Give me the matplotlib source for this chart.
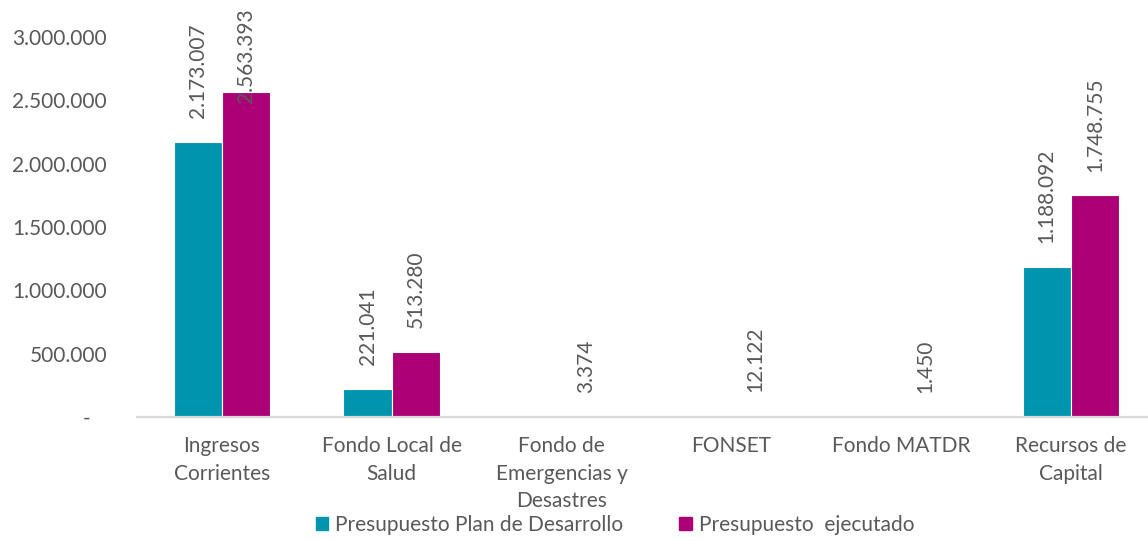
import numpy as np
import matplotlib
matplotlib.use('Agg')
import matplotlib.pyplot as plt
from matplotlib.patches import Patch

# DATA
categories = ['Ingresos\nCorrientes', 'Fondo Local de\nSalud', 'Fondo de\nEmergencias y\nDesastres',
              'FONSET', 'Fondo MATDR', 'Recursos de\nCapital']
plan = [2173007, 221041, 0, 0, 0, 1188092]
ejecutado = [2563393, 513280, 3374, 12122, 1450, 1748755]
series_names = ['Presupuesto Plan de Desarrollo', 'Presupuesto  ejecutado']
yticks = [0, 500000, 1000000, 1500000, 2000000, 2500000, 3000000]

# STYLE
teal = '#0095AE'
magenta = '#AC0077'
text_color = '#595959'
plt.rcParams['font.family'] = ['Lato', 'DejaVu Sans']
fs = 15

W, H = 1148, 541
fig = plt.figure(figsize=(W / 100, H / 100), dpi=100)
ax = fig.add_axes([137 / W, 1 - 417 / H, 1 - 137 / W, (417 - 37) / H])

x = np.arange(len(categories))
w = 0.285
bars1 = ax.bar(x - w / 2, plan, w, color=teal, edgecolor='white', linewidth=0.8)
bars2 = ax.bar(x + w / 2, ejecutado, w, color=magenta, edgecolor='white', linewidth=0.8)

ax.set_xlim(-0.5, -0.5 + 1011 / 169.8)
ax.set_ylim(0, 3000000)


def fmt(v):
    return f"{v:,}".replace(',', '.')


ax.set_yticks(yticks)
ax.set_yticklabels(['-   '] + [fmt(v) for v in yticks[1:]])
ax.set_xticks(x)
ax.set_xticklabels(categories, linespacing=1.45)
ax.tick_params(axis='both', length=0, labelsize=fs, colors=text_color)
ax.tick_params(axis='y', pad=21.6)
ax.tick_params(axis='x', pad=14)

for s in ['top', 'left', 'right']:
    ax.spines[s].set_visible(False)
ax.spines['bottom'].set_color('#d9d9d9')
ax.spines['bottom'].set_linewidth(1.6)

# VALUE LABELS
labels = []
for bars, vals in [(bars1, plan), (bars2, ejecutado)]:
    for b, v in zip(bars, vals):
        if v == 0:
            continue
        t = ax.annotate(fmt(v), (b.get_x() + b.get_width() / 2, v), xytext=(0, 17),
                        textcoords='offset points', rotation=90, ha='center', va='bottom',
                        fontsize=fs, color=text_color, annotation_clip=False)
        labels.append(t)

# keep labels inside the figure (push down like Excel does)
fig.canvas.draw()
r = fig.canvas.get_renderer()
for t in labels:
    bb = t.get_window_extent(r)
    limit = H - 8
    if bb.y1 > limit:
        off = t.xyann
        t.xyann = (off[0], off[1] - (bb.y1 - limit) * 72 / 100)

# LEGEND
handles = [Patch(color=teal), Patch(color=magenta)]
leg = fig.legend(handles, series_names, loc='center', bbox_to_anchor=(615 / W, 1 - 525 / H),
                 ncol=2, frameon=False, fontsize=fs, handlelength=0.58, handleheight=0.58,
                 handletextpad=0.34, columnspacing=2.7, borderpad=0)
for t in leg.get_texts():
    t.set_color(text_color)

fig.savefig('out.png', dpi=100)
